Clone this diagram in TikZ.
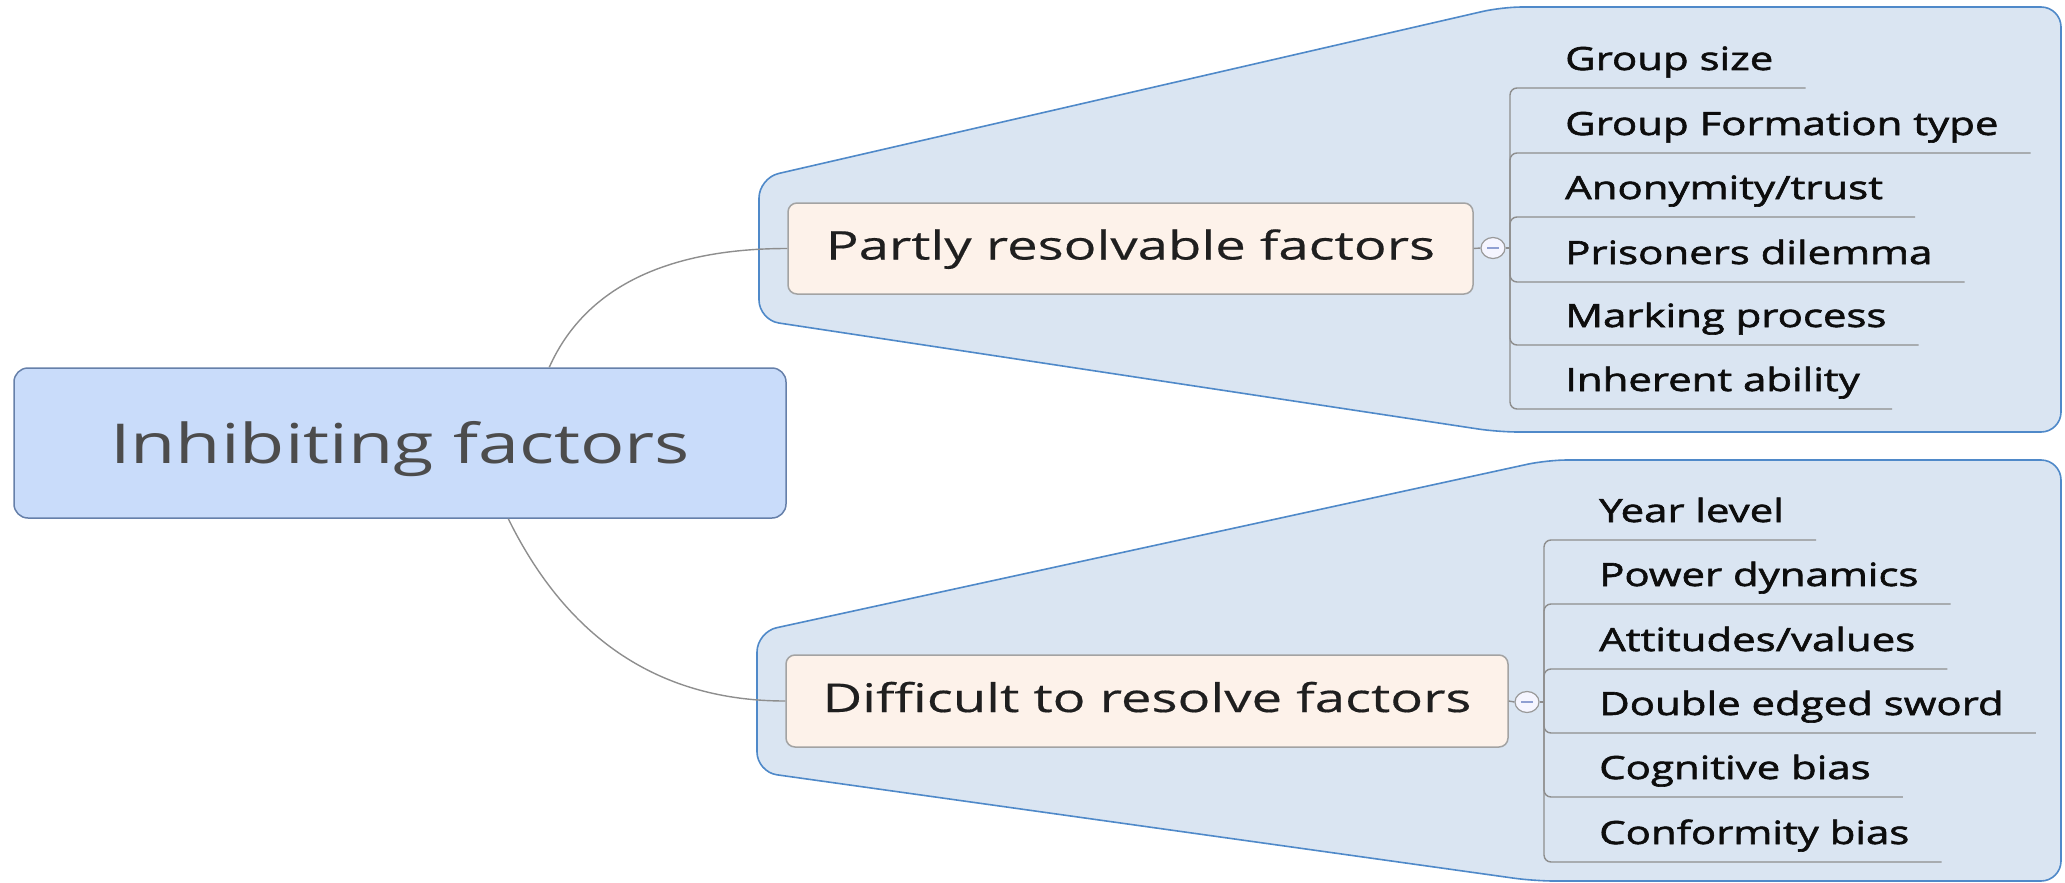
\documentclass[tikz,border=0pt]{standalone}
\usepackage{fontspec}
\usetikzlibrary{calc,shapes.geometric}
\setmainfont{Open Sans}
\newfontfamily\rootfont[FakeStretch=1.34]{Open Sans}
\newfontfamily\mapfont[FakeStretch=1.38,FakeBold=0.4]{Open Sans}
\newfontfamily\leaffont[FakeStretch=1.31,FakeBold=1.9]{Open Sans}

\definecolor{grpfill}{HTML}{DAE5F2}
\definecolor{grpline}{HTML}{4F89C9}
\definecolor{rootfill}{HTML}{C9DCFA}
\definecolor{rootline}{HTML}{6680AA}
\definecolor{subfill}{HTML}{FDF2EA}
\definecolor{subline}{HTML}{A3A3A3}
\definecolor{wirecol}{HTML}{8E8E8E}
\definecolor{minuscol}{HTML}{8F9FD2}

\tikzset{
  grpshape/.style={fill=grpfill, draw=grpline, line width=1.6pt, rounded corners=20pt},
  rootbox/.style={rectangle, rounded corners=14pt, fill=rootfill, draw=rootline,
    line width=1.5pt, inner sep=0pt, text=black!70, text height=54pt, text depth=13pt,
    font=\rootfont\fontsize{55}{60}\selectfont},
  subbox/.style={rectangle, rounded corners=9pt, fill=subfill, draw=subline,
    line width=1.5pt, inner sep=0pt, text=black!88, text height=32pt, text depth=10pt,
    font=\mapfont\fontsize{39.5}{44}\selectfont},
  leaf/.style={anchor=base west, inner sep=0pt, text=black!95,
    font=\leaffont\fontsize{32}{36}\selectfont},
  wire/.style={draw=wirecol, line width=1.4pt},
  branch/.style={wire, rounded corners=7pt},
  toggle/.style={ellipse, minimum width=24pt, minimum height=21pt, inner sep=0pt,
    fill=white!96!blue, draw=black!40, line width=1.2pt},
  minus/.style={draw=minuscol, line width=1.8pt}
}

\begin{document}
\begin{tikzpicture}[x=1pt,y=-1pt]
\useasboundingbox (0,0) rectangle (2065,883);
\fill[white] (0,0) rectangle (2065,883);

% callout-shaped group backgrounds
\draw[grpshape] (759,250) -- (759,178) -- (1502,7) -- (2061,7) -- (2061,432)
  -- (1498,432) -- (759,320) -- cycle;
\draw[grpshape] (757,700) -- (757,632) -- (1547,460) -- (2061,460) -- (2061,881)
  -- (1534,881) -- (757,772) -- cycle;

% central topic and main branches
\node[rootbox, minimum width=772pt, minimum height=150pt] (root) at (400,443) {Inhibiting factors};
\node[subbox, minimum width=685pt, minimum height=91pt] (sub1) at (1130.5,248.5) {Partly resolvable factors};
\node[subbox, minimum width=722pt, minimum height=92pt] (sub2) at (1147,701) {Difficult to resolve factors};

% collapse toggles
\node[toggle] (tg1) at (1493,248) {};
\node[toggle] (tg2) at (1527,702) {};
\draw[minus] ($(tg1.center)+(-6,0)$) -- ($(tg1.center)+(6,0)$);
\draw[minus] ($(tg2.center)+(-6,0)$) -- ($(tg2.center)+(6,0)$);

% leaves of the first branch
\node[leaf] (a1) at (1565,70)  {Group size};
\node[leaf] (a2) at (1565,135) {Group Formation type};
\node[leaf] (a3) at (1565,199) {Anonymity/trust};
\node[leaf] (a4) at (1565,264) {Prisoners dilemma};
\node[leaf] (a5) at (1565,327) {Marking process};
\node[leaf] (a6) at (1565,391) {Inherent ability};

% leaves of the second branch
\node[leaf] (b1) at (1599,522) {Year level};
\node[leaf] (b2) at (1599,586) {Power dynamics};
\node[leaf] (b3) at (1599,651) {Attitudes/values};
\node[leaf] (b4) at (1599,715) {Double edged sword};
\node[leaf] (b5) at (1599,779) {Cognitive bias};
\node[leaf] (b6) at (1599,844) {Conformity bias};

% connectors from the central topic
\coordinate (rt) at ($(root.north west)!0.693!(root.north east)$);
\coordinate (rb) at ($(root.south west)!0.64!(root.south east)$);
\draw[wire] (rt) .. controls +(38,-85) and +(-112,0) .. (sub1.west);
\draw[wire] (rb) .. controls +(60,122) and +(-124,0) .. (sub2.west);

% first branch tree
\coordinate (ja) at (1510,248);
\draw[wire] (sub1.east) -- (tg1.west);
\draw[wire] (tg1.east) -- (ja);
\foreach \n in {a1,a2,a3,a4,a5,a6}
  \draw[branch] (ja) |- ($(\n.base east)+(32,18)$);

% second branch tree
\coordinate (jb) at (1544,702);
\draw[wire] (sub2.east) -- (tg2.west);
\draw[wire] (tg2.east) -- (jb);
\foreach \n in {b1,b2,b3,b4,b5,b6}
  \draw[branch] (jb) |- ($(\n.base east)+(32,18)$);
\end{tikzpicture}
\end{document}
